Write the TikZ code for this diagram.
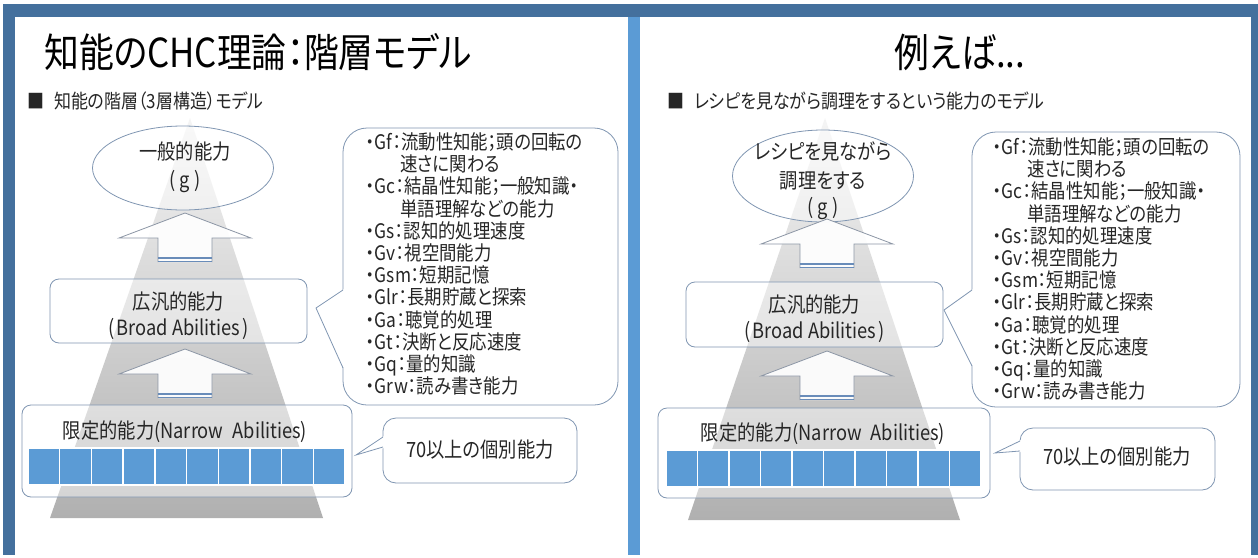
\documentclass[tikz,border=0pt]{standalone}
\usepackage{fontspec}
\setmainfont{Noto Sans CJK JP}[FakeStretch=0.87,RawFeature=+palt]
\usetikzlibrary{shapes.geometric,calc}
\definecolor{frameDark}{RGB}{68,112,157}
\definecolor{frameLight}{RGB}{91,155,213}
\definecolor{boxline}{RGB}{128,150,178}
\definecolor{cellblue}{RGB}{91,155,213}
\definecolor{arrowline}{RGB}{140,150,165}
\definecolor{arrowbase}{RGB}{105,140,185}
\definecolor{txt}{RGB}{38,38,38}
\tikzset{
  titletext/.style={inner sep=0pt, font=\fontsize{40}{44}\selectfont, text=black},
  subtext/.style={inner sep=0pt, font=\fontsize{19.5}{22}\selectfont, text=txt, anchor=west},
  boxtext/.style={inner sep=0pt, font=\fontsize{21}{24}\selectfont, text=txt, text height=17pt, text depth=3pt},
  listtext/.style={inner sep=0pt, font=\fontsize{20}{22}\selectfont, text=txt, anchor=west, text height=16pt, text depth=3pt},
  genell/.style={ellipse, draw=boxline, line width=0.8pt, fill=white, fill opacity=0.45, text opacity=1},
  levelbox/.style={rectangle, rounded corners=9pt, draw=boxline, line width=0.8pt, fill=white, fill opacity=0.45},
  calloutbox/.style={rectangle, draw=boxline, line width=0.8pt, fill=white},
  cellstyle/.style={fill=cellblue, draw=white, line width=1.4pt},
  uparrow/.pic={
    \fill[white, fill opacity=0.92] (0,0) -- (66,25) -- (27,25) -- (27,49) -- (-27,49) -- (-27,25) -- (-66,25) -- cycle;
    \draw[arrowline, line width=0.8pt, line join=miter] (-27,49) -- (-27,25) -- (-66,25) -- (0,0) -- (66,25) -- (27,25) -- (27,49);
    \draw[arrowbase, line width=1.4pt] (-27,48.5) -- (27,48.5);
    \draw[arrowbase, line width=1.2pt] (-27,45) -- (27,45);
  }
}
\newcommand{\gpar}{(\hspace{4pt}g\hspace{4pt})}
\begin{document}
\begin{tikzpicture}[x=1pt,y=-1pt]
\useasboundingbox (0,0) rectangle (1258,557);
\fill[white] (0,0) rectangle (1258,557);
% frames
\fill[frameDark] (3,4) rectangle (1258,17);
\fill[frameDark] (3,4) rectangle (15,555);
\fill[frameLight] (628,17) rectangle (640,555);
\fill[frameDark] (1251,4) rectangle (1258,555);

%================ LEFT SLIDE =================
\node[titletext, anchor=west] (titleL) at (44,52) {知能のCHC理論：階層モデル};
\node[subtext] (subL) at (27,101) {■\hspace{10pt}知能の階層（3層構造）モデル};

\shade[top color=gray!8, bottom color=gray!62] (190,118) -- (323,518) -- (50,518) -- cycle;

\node[genell, minimum width=181pt, minimum height=84pt] (gL) at (183,168) {};
\node[boxtext] (gLa) at (185,152) {一般的能力};
\node[boxtext] (gLb) at (185,180) {\gpar};

\pic at (185,213) {uparrow};

\node[levelbox, minimum width=257pt, minimum height=64pt] (broadL) at (178.5,311) {};
\node[boxtext] (broadLa) at (178.5,302) {広汎的能力};
\node[boxtext] (broadLb) at (178.5,328) {(\hspace{2pt}Broad Abilities\hspace{2pt})};

\pic at (185,349) {uparrow};

\node[levelbox, minimum width=330pt, minimum height=92pt] (narrowL) at (187,451) {};
\node[boxtext] (narrowLa) at (185,431) {限定的能力(Narrow\hspace{9pt}Abilities)};
\foreach \i in {0,...,9} \draw[cellstyle] (28+\i*31.7,448) rectangle ++(31.7,37);

% list callout
\node[calloutbox, rounded corners=24pt, minimum width=275pt, minimum height=277pt] (listL) at (480.5,266.5) {};
\coordinate (tipL) at (316,308);
\coordinate (listLa) at (343,290);
\coordinate (listLb) at (343,368);
\fill[white] ($(listLa)+(1.2,-1)$) -- (tipL) -- ($(listLb)+(1.2,1)$) -- cycle;
\draw[boxline, line width=0.8pt, line join=miter] (listLa) -- (tipL) -- (listLb);
\node[listtext] (l1) at (366,143.0) {・Gf：流動性知能；頭の回転の};
\node[listtext] (l2) at (400,165.2) {速さに関わる};
\node[listtext] (l3) at (366,187.4) {・Gc：結晶性知能；一般知識・};
\node[listtext] (l4) at (400,209.6) {単語理解などの能力};
\node[listtext] (l5) at (366,231.8) {・Gs：認知的処理速度};
\node[listtext] (l6) at (366,254.0) {・Gv：視空間能力};
\node[listtext] (l7) at (366,276.2) {・Gsm：短期記憶};
\node[listtext] (l8) at (366,298.4) {・Glr：長期貯蔵と探索};
\node[listtext] (l9) at (366,320.6) {・Ga：聴覚的処理};
\node[listtext] (l10) at (366,342.8) {・Gt：決断と反応速度};
\node[listtext] (l11) at (366,365.0) {・Gq：量的知識};
\node[listtext] (l12) at (366,387.2) {・Grw：読み書き能力};

% small callout
\node[calloutbox, rounded corners=13pt, minimum width=194pt, minimum height=65pt] (smallL) at (480,450.5) {};
\coordinate (tipSL) at (356,455);
\coordinate (smallLa) at (383,437);
\coordinate (smallLb) at (383,447);
\fill[white] ($(smallLa)+(1.2,-1)$) -- (tipSL) -- ($(smallLb)+(1.2,1)$) -- cycle;
\draw[boxline, line width=0.8pt, line join=miter] (smallLa) -- (tipSL) -- (smallLb);
\node[boxtext] (smallLt) at (480,450) {70以上の個別能力};

%================ RIGHT SLIDE =================
\node[titletext] (titleR) at (960,52) {例えば...};
\node[subtext] (subR) at (667,101) {■\hspace{10pt}レシピを見ながら調理をするという能力のモデル};

\shade[top color=gray!8, bottom color=gray!62] (825,118) -- (960,520) -- (688,520) -- cycle;

\node[genell, minimum width=181pt, minimum height=92pt] (gR) at (823,176) {};
\node[boxtext] (gRa) at (823,152) {レシピを見ながら};
\node[boxtext] (gRb) at (823,181) {調理をする};
\node[boxtext] (gRc) at (823,207) {\gpar};

\pic at (827,219) {uparrow};

\node[levelbox, minimum width=257pt, minimum height=65pt] (broadR) at (814.5,314.5) {};
\node[boxtext] (broadRa) at (814.5,305) {広汎的能力};
\node[boxtext] (broadRb) at (814.5,331) {(\hspace{2pt}Broad Abilities\hspace{2pt})};

\pic at (827,351) {uparrow};

\node[levelbox, minimum width=332pt, minimum height=90pt] (narrowR) at (824,453) {};
\node[boxtext] (narrowRa) at (823,433) {限定的能力(Narrow\hspace{9pt}Abilities)};
\foreach \i in {0,...,9} \draw[cellstyle] (666+\i*31.5,450) rectangle ++(31.5,37);

\node[calloutbox, rounded corners=24pt, minimum width=268pt, minimum height=275pt] (listR) at (1106,269.5) {};
\coordinate (tipR) at (944,310);
\coordinate (listRa) at (972,290);
\coordinate (listRb) at (972,366);
\fill[white] ($(listRa)+(1.2,-1)$) -- (tipR) -- ($(listRb)+(1.2,1)$) -- cycle;
\draw[boxline, line width=0.8pt, line join=miter] (listRa) -- (tipR) -- (listRb);
\node[listtext] (r1) at (993,148.0) {・Gf：流動性知能；頭の回転の};
\node[listtext] (r2) at (1027,170.2) {速さに関わる};
\node[listtext] (r3) at (993,192.4) {・Gc：結晶性知能；一般知識・};
\node[listtext] (r4) at (1027,214.6) {単語理解などの能力};
\node[listtext] (r5) at (993,236.8) {・Gs：認知的処理速度};
\node[listtext] (r6) at (993,259.0) {・Gv：視空間能力};
\node[listtext] (r7) at (993,281.2) {・Gsm：短期記憶};
\node[listtext] (r8) at (993,303.4) {・Glr：長期貯蔵と探索};
\node[listtext] (r9) at (993,325.6) {・Ga：聴覚的処理};
\node[listtext] (r10) at (993,347.8) {・Gt：決断と反応速度};
\node[listtext] (r11) at (993,370.0) {・Gq：量的知識};
\node[listtext] (r12) at (993,392.2) {・Grw：読み書き能力};

\node[calloutbox, rounded corners=13pt, minimum width=195pt, minimum height=62pt] (smallR) at (1117.5,459) {};
\coordinate (tipSR) at (995,453);
\coordinate (smallRa) at (1020,441);
\coordinate (smallRb) at (1020,451);
\fill[white] ($(smallRa)+(1.2,-1)$) -- (tipSR) -- ($(smallRb)+(1.2,1)$) -- cycle;
\draw[boxline, line width=0.8pt, line join=miter] (smallRa) -- (tipSR) -- (smallRb);
\node[boxtext] (smallRt) at (1117,457) {70以上の個別能力};
\end{tikzpicture}
\end{document}
